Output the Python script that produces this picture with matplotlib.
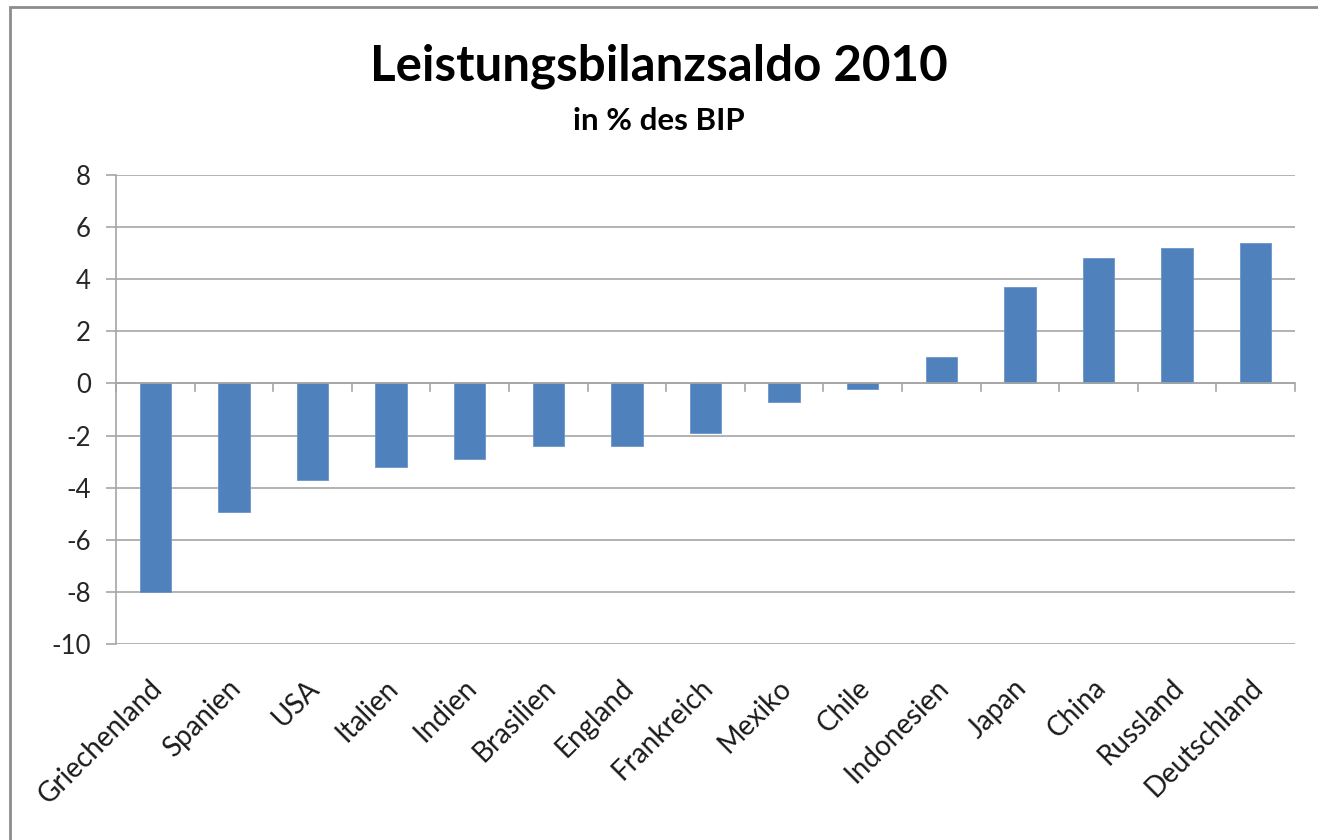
import numpy as np
import matplotlib
matplotlib.use('Agg')
from matplotlib import pyplot as plt
from matplotlib.patches import Rectangle

# Leistungsbilanzsaldo 2010, in % des BIP
laender = ['Griechenland', 'Spanien', 'USA', 'Italien', 'Indien', 'Brasilien',
           'England', 'Frankreich', 'Mexiko', 'Chile', 'Indonesien', 'Japan',
           'China', 'Russland', 'Deutschland']
saldo = [-8.0, -4.95, -3.7, -3.2, -2.9, -2.4, -2.4, -1.9, -0.7, -0.2,
         1.0, 3.7, 4.8, 5.2, 5.4]
yticks = [8, 6, 4, 2, 0, -2, -4, -6, -8, -10]

plt.rcParams['font.family'] = ['Lato', 'DejaVu Sans']

fig = plt.figure(figsize=(13.18, 8.4), dpi=100)
ax = fig.add_axes([116/1318, 1-644/840, (1295-116)/1318, (644-175)/840])

x = np.arange(len(laender))
ax.bar(x, saldo, width=0.4, color='#4f81bd', edgecolor='#6a95c9', linewidth=0.6, zorder=3)

ax.set_xlim(-0.5, len(laender) - 0.5)
ax.set_ylim(-10, 8)
ax.set_yticks(yticks)
ax.set_yticklabels([str(v) for v in yticks], fontsize=18.5, color='#262626')
ax.yaxis.grid(True, color='#a6a6a6', linewidth=1.2, zorder=0)
ax.tick_params(axis='y', length=7, color='#a6a6a6', width=1.2, pad=11)

for side in ['top', 'right', 'bottom']:
    ax.spines[side].set_visible(False)
ax.spines['left'].set_color('#a6a6a6')
ax.spines['left'].set_linewidth(1.2)

# x axis at zero with tick marks between the categories
ax.axhline(0, color='#a6a6a6', linewidth=1.2, zorder=4)
for b in np.arange(-0.5, len(laender), 1.0):
    ax.plot([b, b], [0, -0.3], color='#a6a6a6', linewidth=1.2, zorder=4, clip_on=False)

ax.set_xticks(x)
ax.set_xticklabels([])
ax.tick_params(axis='x', length=0)
for xi, name in zip(x, laender):
    ax.annotate(name, xy=(xi - 0.08, -10), xytext=(0, -22), textcoords='offset points',
                rotation=45, ha='right', va='top', rotation_mode='anchor', fontsize=20,
                color='#1a1a1a', annotation_clip=False)

fig.text(0.5, 1 - 66/840, 'Leistungsbilanzsaldo 2010', ha='center', va='center',
         fontsize=35.5, fontweight='bold')
fig.text(0.5, 1 - 121/840, 'in % des BIP', ha='center', va='center',
         fontsize=22.5, fontweight='bold')

fig.patches.append(Rectangle((10/1318, -0.05), 1.1, 1 - 7/840 + 0.05, transform=fig.transFigure,
                             fill=False, edgecolor='#8c8c8c', linewidth=2))

plt.savefig('out.png', dpi=100)
